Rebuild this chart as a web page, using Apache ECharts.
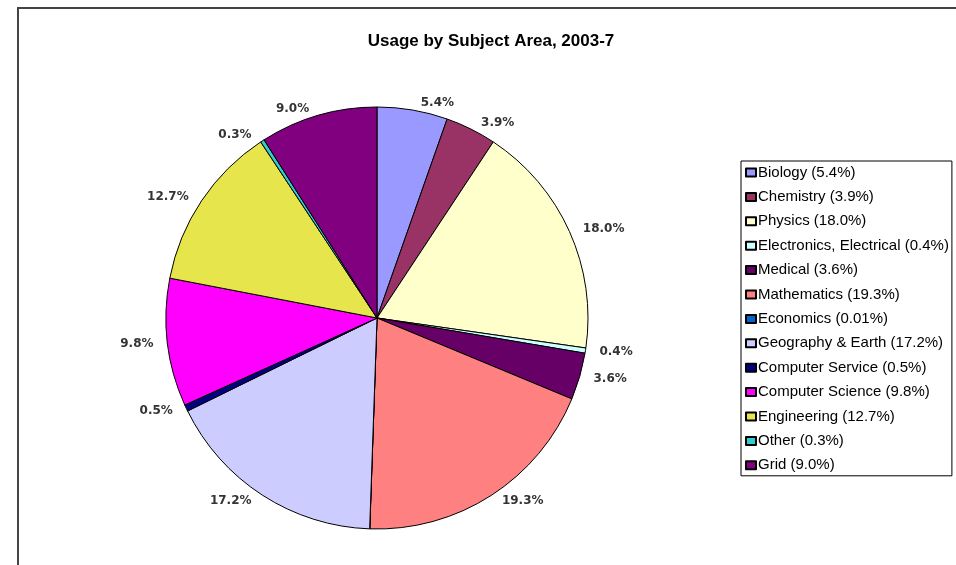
<!DOCTYPE html>
<html>
<head>
<meta charset="utf-8">
<script src="https://cdn.jsdelivr.net/npm/echarts@6/dist/echarts.min.js"></script>
<style>
  html, body { margin: 0; padding: 0; background: #fff; }
  #main { width: 956px; height: 565px; }
</style>
</head>
<body>
<div id="main"></div>
<script>
var subjects = ['Biology', 'Chemistry', 'Physics', 'Electronics, Electrical', 'Medical',
  'Mathematics', 'Economics', 'Geography & Earth', 'Computer Service',
  'Computer Science', 'Engineering', 'Other', 'Grid'];
var usage = [5.4, 3.9, 18.0, 0.4, 3.6, 19.3, 0.01, 17.2, 0.5, 9.8, 12.7, 0.3, 9.0];
var colors = ['#9999ff', '#993366', '#ffffcc', '#ccffff', '#660066', '#ff8080', '#0066cc',
  '#ccccff', '#000080', '#ff00ff', '#e6e64c', '#33cccc', '#800080'];

function fmt(v) {
  return v < 0.1 ? String(v) : v.toFixed(1);
}

var myChart = echarts.init(document.getElementById('main'));

var pieData = subjects.map(function (s, i) {
  var item = { name: s, value: usage[i], itemStyle: { color: colors[i] } };
  if (usage[i] < 0.1) {
    item.label = { show: false };
  }
  return item;
});

var option = {
  backgroundColor: '#fff',
  animation: false,
  title: {
    text: 'Usage by Subject Area, 2003-7',
    left: 486,
    textAlign: 'center',
    top: 28,
    textStyle: { fontFamily: 'Liberation Sans', fontSize: 17, fontWeight: 'bold', color: '#000' }
  },
  graphic: [{
    type: 'rect',
    shape: { x: 18, y: 8, width: 960, height: 580 },
    style: { fill: 'none', stroke: '#444', lineWidth: 2 },
    silent: true
  }],
  legend: {
    orient: 'vertical',
    left: 741,
    top: 161,
    padding: [4, 3, 3, 4],
    borderColor: '#000',
    borderWidth: 1,
    itemWidth: 10,
    itemHeight: 8,
    itemGap: 9.4,
    icon: 'rect',
    data: subjects,
    formatter: function (name) {
      return name + ' (' + fmt(usage[subjects.indexOf(name)]) + '%)';
    },
    textStyle: { fontFamily: 'Liberation Sans', fontSize: 15, color: '#000', padding: [0, 0, 0, -3] }
  },
  series: [{
    type: 'pie',
    center: [377, 318],
    radius: 211,
    startAngle: 90,
    clockwise: true,
    avoidLabelOverlap: true,
    itemStyle: { borderColor: '#000', borderWidth: 1 },
    label: {
      show: true,
      position: 'outside',
      formatter: function (p) { return fmt(p.value) + '%'; },
      fontFamily: 'DejaVu Sans',
      fontSize: 12,
      fontWeight: 'bold',
      color: '#333'
    },
    labelLine: { show: false, length: 7, length2: 2 },
    emphasis: { disabled: true },
    data: pieData
  }]
};

myChart.setOption(option);
</script>
</body>
</html>
